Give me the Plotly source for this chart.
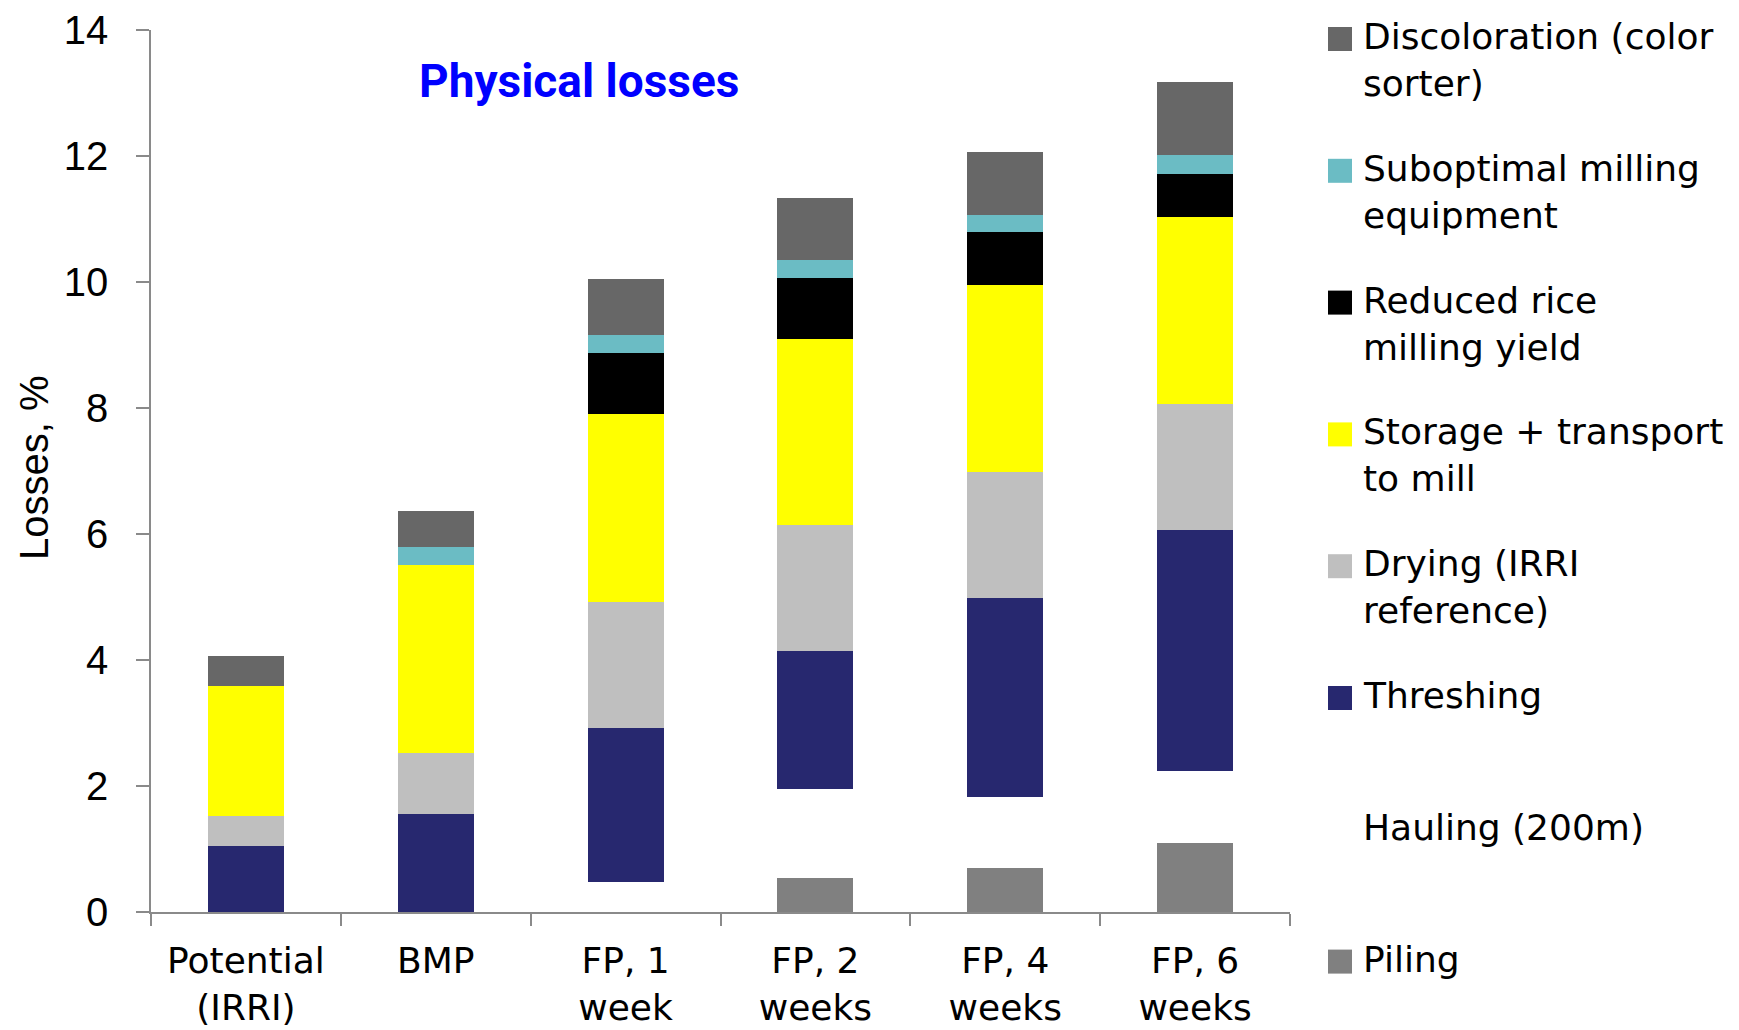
import plotly.graph_objects as go

# Stacked rice post-harvest losses (%) per scenario
categories = ["Potential<br>(IRRI)", "BMP", "FP, 1<br>week", "FP, 2<br>weeks",
              "FP, 4<br>weeks", "FP, 6<br>weeks"]

piling = [0, 0, 0, 0.54, 0.70, 1.09]
hauling = [0, 0, 0.48, 1.42, 1.12, 1.15]
threshing = [1.05, 1.55, 2.44, 2.19, 3.16, 3.82]
drying = [0.48, 0.98, 2.00, 1.99, 2.01, 2.00]
storage = [2.05, 2.98, 2.99, 2.96, 2.97, 2.97]
reduced_yield = [0, 0, 0.96, 0.97, 0.84, 0.69]
suboptimal_mill = [0, 0.29, 0.29, 0.28, 0.26, 0.29]
discoloration = [0.48, 0.57, 0.89, 0.98, 1.00, 1.17]

# Stack order, bottom to top
series_names = ["Piling", "Hauling (200m)", "Threshing", "Drying (IRRI<br>reference)",
                "Storage + transport<br>to mill", "Reduced rice<br>milling yield",
                "Suboptimal milling<br>equipment", "Discoloration (color<br>sorter)"]
series_values = [piling, hauling, threshing, drying, storage, reduced_yield,
                 suboptimal_mill, discoloration]
series_colors = ["#808080", "#FFFFFF", "#27286F", "#BFBFBF", "#FFFF00", "#000000",
                 "#6BBCC4", "#676767"]
# Hauling has no swatch in the key
show_swatch = [True, False, True, True, True, True, True, True]

W, H = 1739, 1030
L, R, T, B = 151, 1290, 30, 912   # plot area in pixels


def px_x(p):
    return (p - L) / (R - L)


def px_y(p):
    return (B - p) / (B - T)


fig = go.Figure()
for name, vals, col in zip(series_names, series_values, series_colors):
    fig.add_trace(go.Bar(x=categories, y=vals, name=name.replace("<br>", " "),
                         marker=dict(color=col, line=dict(width=0)),
                         showlegend=False))

axis_col = "#8A8A8A"
fig.update_layout(
    width=W, height=H,
    margin=dict(l=L, r=W - R, t=T, b=H - B),
    paper_bgcolor="white", plot_bgcolor="white",
    barmode="stack", bargap=0.6,
    font=dict(family="Liberation Sans, Arial, sans-serif", color="black"),
    xaxis=dict(type="category", range=[-0.5, 5.5], showline=True, linecolor=axis_col,
               linewidth=1.5, ticks="outside", tickson="boundaries", ticklen=12,
               tickcolor=axis_col, tickwidth=1.5, showgrid=False, automargin=False,
               tickfont=dict(size=36, family="DejaVu Sans, sans-serif"),
               ticklabelstandoff=16),
    yaxis=dict(range=[0, 14], dtick=2, showline=True, linecolor=axis_col, linewidth=1.5,
               ticks="outside", ticklen=13, tickcolor=axis_col, tickwidth=1.5,
               showgrid=False, zeroline=False, automargin=False,
               tickfont=dict(size=40, family="Liberation Sans, Arial, sans-serif"),
               ticklabelstandoff=20),
)

annotations = [
    dict(text="Losses, %", textangle=-90, x=px_x(34), y=px_y(468), xref="paper",
         yref="paper", showarrow=False, xanchor="center", yanchor="middle",
         font=dict(size=40, family="Liberation Sans, Arial, sans-serif")),
    dict(text="<b>Physical losses</b>", x=px_x(579), y=px_y(81), xref="paper",
         yref="paper", showarrow=False, xanchor="center", yanchor="middle",
         font=dict(size=46, color="#0000FF", family="Roboto, Open Sans, sans-serif")),
]

# Key on the right, topmost series first
shapes = []
row_pitch = 131.8
for i, idx in enumerate(reversed(range(len(series_names)))):
    cy = 39 + row_pitch * i
    if show_swatch[idx]:
        shapes.append(dict(type="rect", xref="paper", yref="paper",
                           x0=px_x(1328), x1=px_x(1352), y0=px_y(cy + 12), y1=px_y(cy - 12),
                           fillcolor=series_colors[idx], line=dict(width=0)))
    annotations.append(dict(text=series_names[idx], x=px_x(1361), y=px_y(cy - 25),
                            xref="paper", yref="paper", showarrow=False, align="left",
                            xanchor="left", yanchor="top",
                            font=dict(size=36, family="DejaVu Sans, sans-serif")))

fig.update_layout(annotations=annotations, shapes=shapes)
fig.write_html("out.html")
